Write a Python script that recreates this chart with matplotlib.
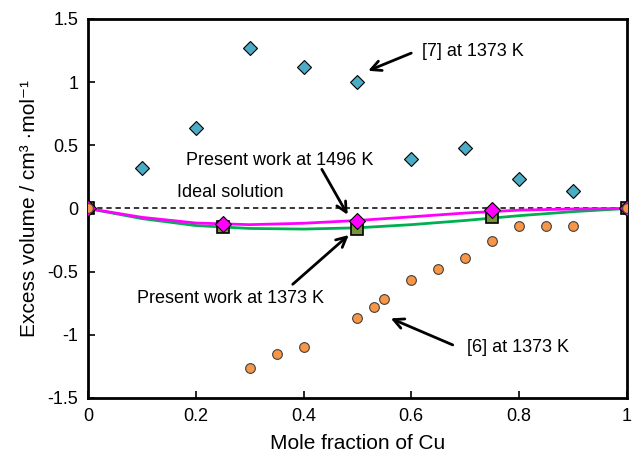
import matplotlib
matplotlib.use("Agg")
import matplotlib.pyplot as plt
from matplotlib.ticker import FuncFormatter

plt.rcParams['font.family'] = ['Liberation Sans', 'DejaVu Sans']
plt.rcParams['axes.unicode_minus'] = False

# === Dados ===
# [7] at 1373 K
x_ref7 = [0.1, 0.2, 0.3, 0.4, 0.5, 0.6, 0.7, 0.8, 0.9]
v_ref7 = [0.32, 0.64, 1.27, 1.12, 1.00, 0.39, 0.48, 0.23, 0.14]

# [6] at 1373 K
x_ref6 = [0.0, 0.3, 0.35, 0.4, 0.5, 0.53, 0.55, 0.6, 0.65, 0.7, 0.75, 0.8, 0.85, 0.9, 1.0]
v_ref6 = [0.0, -1.26, -1.15, -1.10, -0.87, -0.78, -0.72, -0.57, -0.48, -0.39, -0.26, -0.14, -0.14, -0.14, 0.0]

# Present work, pontos medidos
x_pw = [0.0, 0.25, 0.5, 0.75, 1.0]
v_pw1373 = [0.0, -0.15, -0.16, -0.07, 0.0]
v_pw1496 = [0.0, -0.12, -0.10, -0.01, 0.0]

# Curvas ajustadas
x_fit = [0.0, 0.1, 0.2, 0.3, 0.4, 0.5, 0.6, 0.7, 0.8, 0.9, 1.0]
fit1373 = [0.0, -0.08, -0.135, -0.158, -0.163, -0.153, -0.128, -0.095, -0.057, -0.025, 0.0]
fit1496 = [0.0, -0.07, -0.115, -0.128, -0.117, -0.095, -0.066, -0.036, -0.013, -0.004, 0.0]

# === Figura ===
fig = plt.figure(figsize=(6.35, 4.61), dpi=100)
ax = fig.add_axes([0.1386, 0.1367, 0.8484, 0.8221])

ax.axhline(0, color='black', lw=1.1, ls=(0, (3.5, 2.5)), zorder=1)

ax.plot(x_fit, fit1373, color='#00B050', lw=2, zorder=2)
ax.plot(x_fit, fit1496, color='#FF00FF', lw=2, zorder=3)

ax.plot(x_pw, v_pw1373, ls='none', marker='s', ms=8, mfc='#77933C', mec='black', mew=1.2, zorder=4)
ax.plot(x_pw, v_pw1496, ls='none', marker='D', ms=8, mfc='#FF00FF', mec='black', mew=0.8, zorder=5)
ax.plot(x_ref7, v_ref7, ls='none', marker='D', ms=7, mfc='#4BACC6', mec='black', mew=0.8, zorder=5)
ax.plot(x_ref6, v_ref6, ls='none', marker='o', ms=7, mfc='#F79646', mec='#404040', mew=0.8, zorder=6)

ax.set_xlim(0, 1)
ax.set_ylim(-1.5, 1.5)
ax.set_xticks([0, 0.2, 0.4, 0.6, 0.8, 1.0])
ax.set_yticks([-1.5, -1, -0.5, 0, 0.5, 1, 1.5])
fmt = FuncFormatter(lambda v, p: ('%g' % v))
ax.xaxis.set_major_formatter(fmt)
ax.yaxis.set_major_formatter(fmt)
ax.tick_params(direction='in', length=5, width=1.2, labelsize=13, pad=7)
for s in ax.spines.values():
    s.set_linewidth(2)

ax.set_xlabel("Mole fraction of Cu", fontsize=15, labelpad=7)
ax.set_ylabel("Excess volume / cm\u00b3 \u00b7mol\u207b\u00b9", fontsize=15, labelpad=6)

# === Anotacoes ===
arr = dict(arrowstyle='->', lw=2, color='black', mutation_scale=18, shrinkA=0, shrinkB=0)
ax.text(0.62, 1.24, "[7] at 1373 K", fontsize=13, va='center', ha='left')
ax.annotate("", xy=(0.52, 1.09), xytext=(0.60, 1.23), arrowprops=arr)
ax.text(0.182, 0.38, "Present work at 1496 K", fontsize=13, va='center', ha='left')
ax.annotate("", xy=(0.482, -0.05), xytext=(0.434, 0.31), arrowprops=arr)
ax.text(0.165, 0.127, "Ideal solution", fontsize=13, va='center', ha='left')
ax.text(0.091, -0.71, "Present work at 1373 K", fontsize=13, va='center', ha='left')
ax.annotate("", xy=(0.484, -0.21), xytext=(0.38, -0.60), arrowprops=arr)
ax.text(0.703, -1.10, "[6] at 1373 K", fontsize=13, va='center', ha='left')
ax.annotate("", xy=(0.562, -0.87), xytext=(0.677, -1.08), arrowprops=arr)

fig.savefig("out.png", dpi=100)
